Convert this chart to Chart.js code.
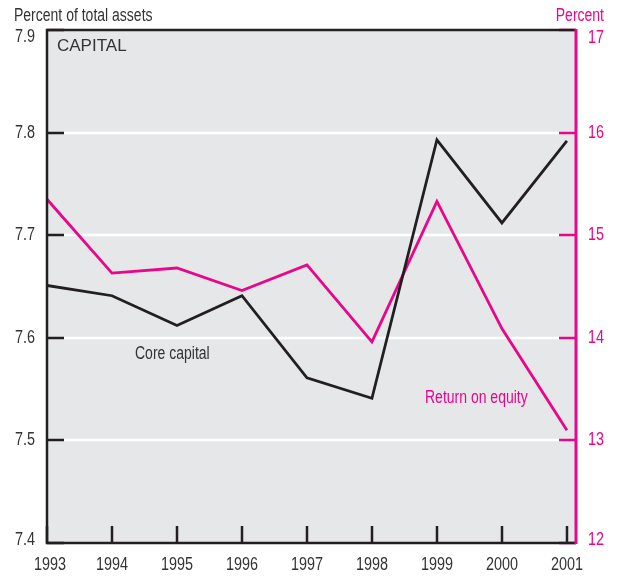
<!DOCTYPE html>
<html>
<head>
<meta charset="utf-8">
<script src="https://cdn.jsdelivr.net/npm/chart.js@4/dist/chart.umd.min.js"></script>
<style>
html,body{margin:0;padding:0;background:#fff;}
#wrap{width:617px;height:576px;position:relative;}
</style>
</head>
<body>
<div id="wrap"><canvas id="c" width="617" height="576"></canvas></div>
<script>
const years = [1993, 1994, 1995, 1996, 1997, 1998, 1999, 2000, 2001];
const coreCapital = [7.651, 7.641, 7.612, 7.641, 7.561, 7.541, 7.793, 7.712, 7.792];
const returnOnEquity = [15.35, 14.63, 14.68, 14.46, 14.71, 13.96, 15.33, 14.09, 13.10];
const leftTicks = [7.4, 7.5, 7.6, 7.7, 7.8, 7.9];
const rightTicks = [12, 13, 14, 15, 16, 17];
const yearLabels = years.map(String);
const leftLabels = leftTicks.map(v => v.toFixed(1));
const rightLabels = rightTicks.map(String);

const PINK = '#e8078a';
const BLACK = '#231f20';
const TEXT = '#333333';
const BG = '#e6e7e8';
const NARROW = '"Liberation Sans", Arial, sans-serif';
const SQUEEZE = 0.8;

function narrowText(ctx, str, x, y, align, baseline, size, color) {
  ctx.save();
  ctx.font = size + 'px ' + NARROW;
  ctx.fillStyle = color;
  ctx.textAlign = align;
  ctx.textBaseline = baseline;
  ctx.translate(x, y);
  ctx.scale(SQUEEZE, 1);
  ctx.fillText(str, 0, 0);
  ctx.restore();
}

const decor = {
  id: 'decor',
  beforeDatasetsDraw(chart) {
    const {ctx, chartArea: a, scales} = chart;
    ctx.save();
    ctx.fillStyle = BG;
    ctx.fillRect(a.left, a.top, a.right - a.left, a.bottom - a.top);
    ctx.strokeStyle = '#ffffff';
    ctx.lineWidth = 2.5;
    leftTicks.forEach((v, i) => {
      if (i === 0 || i === leftTicks.length - 1) return;
      const y = Math.round(scales.y.getPixelForValue(v));
      ctx.beginPath(); ctx.moveTo(a.left + 17, y); ctx.lineTo(a.right - 17, y); ctx.stroke();
    });
    ctx.restore();
  },
  afterDatasetsDraw(chart) {
    const {ctx, chartArea: a, scales} = chart;
    ctx.save();
    ctx.lineWidth = 2.5;
    ctx.strokeStyle = BLACK;
    leftTicks.forEach(v => {
      const y = Math.round(scales.y.getPixelForValue(v));
      ctx.beginPath(); ctx.moveTo(a.left, y); ctx.lineTo(a.left + 17, y); ctx.stroke();
    });
    years.forEach(v => {
      const x = Math.round(scales.x.getPixelForValue(v));
      ctx.beginPath(); ctx.moveTo(x, a.bottom); ctx.lineTo(x, a.bottom - 17); ctx.stroke();
    });
    ctx.strokeStyle = PINK;
    rightTicks.forEach(v => {
      const y = Math.round(scales.y1.getPixelForValue(v));
      ctx.beginPath(); ctx.moveTo(a.right, y); ctx.lineTo(a.right - 17, y); ctx.stroke();
    });
    ctx.strokeStyle = BLACK;
    ctx.lineWidth = 2.5;
    ctx.beginPath();
    ctx.moveTo(a.right, a.top); ctx.lineTo(a.left, a.top); ctx.lineTo(a.left, a.bottom); ctx.lineTo(a.right, a.bottom);
    ctx.stroke();
    ctx.strokeStyle = PINK;
    ctx.lineWidth = 3;
    ctx.beginPath(); ctx.moveTo(a.right, a.top - 1); ctx.lineTo(a.right, a.bottom + 1); ctx.stroke();
    ctx.restore();

    // tick labels
    const clampY = y => Math.min(Math.max(y, a.top + 7), a.bottom - 3);
    leftTicks.forEach((v, i) => {
      const y = clampY(scales.y.getPixelForValue(v));
      narrowText(ctx, leftLabels[i], a.left - 12, y, 'right', 'middle', 18, TEXT);
    });
    rightTicks.forEach((v, i) => {
      const y = clampY(scales.y1.getPixelForValue(v)) + (i === rightTicks.length - 1 ? 1 : 0);
      narrowText(ctx, rightLabels[i], a.right + 12, y, 'left', 'middle', 18, PINK);
    });
    years.forEach((v, i) => {
      const x = scales.x.getPixelForValue(v) + (i === 0 ? 3 : 0);
      narrowText(ctx, yearLabels[i], x, a.bottom + 27, 'center', 'alphabetic', 18, TEXT);
    });

    // titles and annotations
    narrowText(ctx, 'Percent of total assets', 14, 21, 'left', 'alphabetic', 17.5, TEXT);
    narrowText(ctx, 'Percent', 604, 21, 'right', 'alphabetic', 17.5, PINK);
    narrowText(ctx, 'Core capital', 135, 359, 'left', 'alphabetic', 17.5, TEXT);
    narrowText(ctx, 'Return on equity', 425, 403, 'left', 'alphabetic', 17.5, PINK);
    ctx.save();
    ctx.font = '17px "Liberation Sans", Arial, sans-serif';
    ctx.fillStyle = TEXT;
    ctx.textAlign = 'left';
    ctx.textBaseline = 'alphabetic';
    ctx.fillText('CAPITAL', 57, 51);
    ctx.restore();
  }
};

new Chart(document.getElementById('c'), {
  type: 'line',
  data: {
    datasets: [
      {
        label: 'Core capital',
        data: years.map((x, i) => ({x, y: coreCapital[i]})),
        borderColor: BLACK, borderWidth: 2.8, pointRadius: 0, tension: 0, yAxisID: 'y'
      },
      {
        label: 'Return on equity',
        data: years.map((x, i) => ({x, y: returnOnEquity[i]})),
        borderColor: PINK, borderWidth: 2.8, pointRadius: 0, tension: 0, yAxisID: 'y1'
      }
    ]
  },
  options: {
    responsive: false,
    animation: false,
    layout: {padding: {top: 30, left: 0, right: 0, bottom: 0}},
    plugins: {legend: {display: false}, tooltip: {enabled: false}},
    scales: {
      x: {
        type: 'linear', min: 1993, max: 2001.14,
        grid: {display: false}, border: {display: false},
        afterBuildTicks: s => { s.ticks = years.map(v => ({value: v})); },
        afterFit: s => { s.height = 33; },
        ticks: {display: false}
      },
      y: {
        position: 'left', min: 7.4, max: 7.9,
        grid: {display: false}, border: {display: false},
        afterBuildTicks: s => { s.ticks = leftTicks.map(v => ({value: v})); },
        afterFit: s => { s.width = 47; },
        ticks: {display: false}
      },
      y1: {
        position: 'right', min: 12, max: 17,
        grid: {display: false}, border: {display: false},
        afterBuildTicks: s => { s.ticks = rightTicks.map(v => ({value: v})); },
        afterFit: s => { s.width = 41; },
        ticks: {display: false}
      }
    }
  },
  plugins: [decor]
});
</script>
</body>
</html>
